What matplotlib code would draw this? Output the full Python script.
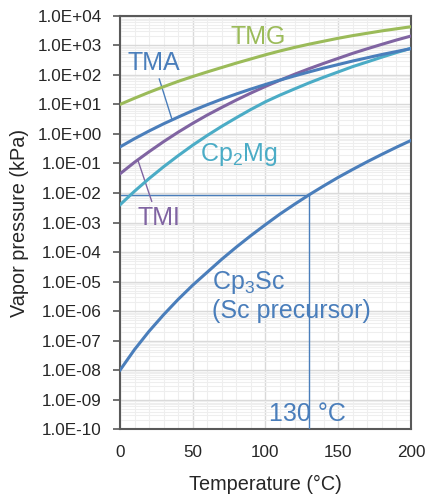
import matplotlib
matplotlib.use('Agg')
import matplotlib.pyplot as plt
from matplotlib.ticker import LogLocator, MultipleLocator, FuncFormatter

plt.rcParams['font.family'] = ['Liberation Sans', 'DejaVu Sans']
plt.rcParams['mathtext.fontset'] = 'custom'
plt.rcParams['mathtext.rm'] = 'Liberation Sans'

# Temperature (deg C) and vapor pressure (kPa)
temp_c = [0, 10, 20, 30, 40, 50, 60, 70, 80, 90, 100,
          110, 120, 130, 140, 150, 160, 170, 180, 190, 200]
tmg = [10.0, 16.2, 25.7, 39.8, 60.3, 88, 126, 178, 251, 347, 479,
       646, 851, 1096, 1380, 1738, 2138, 2570, 3090, 3630, 4266]
tma = [0.363, 0.692, 1.26, 2.21, 3.72, 6.17, 9.77, 15.1, 22.6, 33.1, 47.3,
       66.8, 92.3, 126, 170, 224, 295, 380, 490, 617, 776]
tmi = [0.0447, 0.110, 0.251, 0.550, 1.15, 2.29, 4.37, 7.94, 14.1, 24.3, 40.7,
       66.1, 105, 162, 245, 363, 537, 767, 1084, 1514, 2065]
cp2mg = [3.98e-3, 1.15e-2, 3.09e-2, 7.76e-2, 0.184, 0.417, 0.891, 1.82, 3.55, 6.76, 12.3,
         20.7, 33.5, 53.7, 83.2, 126, 191, 275, 398, 569, 794]
cp3sc = [1.0e-8, 5.01e-8, 2.09e-7, 7.59e-7, 2.51e-6, 7.59e-6, 2.09e-5, 5.75e-5, 1.48e-4,
         3.63e-4, 8.51e-4, 1.95e-3, 4.17e-3, 8.71e-3, 1.74e-2, 3.39e-2, 6.31e-2,
         0.115, 0.204, 0.355, 0.603]
mark_temp = 130

c_green = '#9BBB59'
c_blue = '#4A7EBB'
c_purple = '#8064A2'
c_cyan = '#4BACC6'

fig = plt.figure(figsize=(4.27, 4.94), dpi=100)
ax = fig.add_axes([0.281, 0.131, 0.6815, 0.837])

ax.set_yscale('log')
ax.set_xlim(0, 200)
ax.set_ylim(1e-10, 1e4)

# grid
ax.xaxis.set_major_locator(MultipleLocator(50))
ax.xaxis.set_minor_locator(MultipleLocator(10))
ax.yaxis.set_major_locator(LogLocator(base=10, numticks=20))
ax.yaxis.set_minor_locator(LogLocator(base=10, subs=range(2, 10), numticks=20))
ax.grid(which='major', color='#D9D9D9', lw=1.0, zorder=0)
ax.grid(which='minor', color='#EEEEEE', lw=0.8, zorder=0)
ax.set_axisbelow(True)

ax.plot(temp_c, tmg, color=c_green, lw=2.2, zorder=3)
ax.plot(temp_c, tmi, color=c_purple, lw=2.2, zorder=3)
ax.plot(temp_c, tma, color=c_blue, lw=2.2, zorder=4)
ax.plot(temp_c, cp2mg, color=c_cyan, lw=2.2, zorder=3)
ax.plot(temp_c, cp3sc, color=c_blue, lw=2.2, zorder=3)

# 130 deg C guide lines
p_mark = cp3sc[temp_c.index(mark_temp)]
ax.plot([0, mark_temp], [p_mark, p_mark], color=c_blue, lw=1.0, zorder=2)
ax.plot([mark_temp, mark_temp], [1e-10, p_mark], color=c_blue, lw=1.0, zorder=5)

# labels
ax.text(95, 10**3.28, 'TMG', color=c_green, fontsize=18, ha='center', va='center')
ax.text(23, 10**2.40, 'TMA', color=c_blue, fontsize=18, ha='center', va='center')
ax.plot([27, 35.5], [10**1.86, 10**0.53], color=c_blue, lw=1.0)
ax.text(27, 10**-2.83, 'TMI', color=c_purple, fontsize=18, ha='center', va='center')
ax.plot([12.6, 21.8], [10**-0.93, 10**-2.28], color=c_purple, lw=1.0)
ax.text(82, 10**-0.71, r'Cp$_\mathregular{2}$Mg', color=c_cyan, fontsize=18,
        ha='center', va='center')
ax.text(63, 10**-5.03, r'Cp$_\mathregular{3}$Sc', color=c_blue, fontsize=18,
        ha='left', va='center')
ax.text(63, 10**-6.0, '(Sc precursor)', color=c_blue, fontsize=18,
        ha='left', va='center')
ax.text(129, 10**-9.49, '130 °C', color=c_blue, fontsize=18, ha='center', va='center',
        zorder=4)

ax.yaxis.set_major_formatter(FuncFormatter(lambda v, p: f'{v:.1E}'))
ax.yaxis.set_minor_formatter(FuncFormatter(lambda v, p: ''))
ax.tick_params(axis='y', which='major', length=5, width=1.2, color='#595959',
               labelsize=12.3, pad=8, labelcolor='#262626')
ax.tick_params(axis='y', which='minor', length=0)
ax.tick_params(axis='x', which='both', length=0, labelsize=12.3, pad=11,
               labelcolor='#262626')

for s in ax.spines.values():
    s.set_color('#595959')
    s.set_linewidth(1.5)

ax.set_xlabel('Temperature (°C)', fontsize=14.3, color='#262626', labelpad=11)
ax.set_ylabel('Vapor pressure (kPa)', fontsize=14.3, color='#262626', labelpad=6)

fig.savefig('out.png', dpi=100)
